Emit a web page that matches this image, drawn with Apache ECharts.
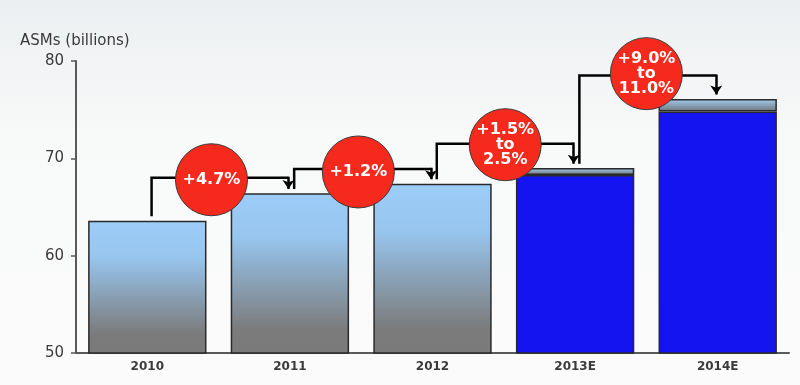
<!DOCTYPE html>
<html>
<head>
<meta charset="utf-8">
<script src="https://cdn.jsdelivr.net/npm/echarts@6/dist/echarts.min.js"></script>
<style>html,body{margin:0;padding:0;background:#fff}#c{width:800px;height:385px}</style>
</head>
<body>
<div id="c"></div>
<script>
// ---- data ----
var categories = ['2010', '2011', '2012', '2013E', '2014E'];
var baseValues = [63.6, 66.4, 67.4, 68.3, 74.8];      // solid bar (actual / low end of estimate)
var rangeValues = [null, null, null, 0.7, 1.3];       // estimate range on top
var isEstimate = [false, false, false, true, true];
var growthLabels = ['+4.7%', '+1.2%', '+1.5%\nto\n2.5%', '+9.0%\nto\n11.0%'];
var bubbleX = [0.45, 1.48, 2.51, 3.5];
var bubbleY = [67.8, 68.6, 71.4, 78.7];
var connectorLevel = [68.0, 68.9, 71.5, 78.5];
var yTicks = { min: 50, max: 80, interval: 10 };

// ---- build ----
var histGradient = new echarts.graphic.LinearGradient(0, 0, 0, 1, [
  { offset: 0, color: '#9ccdf8' },
  { offset: 0.28, color: '#97c5ee' },
  { offset: 0.85, color: '#7b7b7b' },
  { offset: 1, color: '#7a7a7a' }
]);
var rangeGradient = new echarts.graphic.LinearGradient(0, 0, 0, 1, [
  { offset: 0, color: '#a3cdf2' },
  { offset: 1, color: '#6e7478' }
]);
var baseData = baseValues.map(function (v, i) {
  return {
    value: v,
    itemStyle: { color: isEstimate[i] ? '#1414f0' : histGradient }
  };
});
var totals = baseValues.map(function (v, i) { return v + (rangeValues[i] || 0); });
var gap = 0.45;
var elbows = [], arrows = [];
for (var i = 0; i < growthLabels.length; i++) {
  elbows.push({
    coords: [
      [i + 0.03, totals[i] + gap],
      [i + 0.03, connectorLevel[i]],
      [i + 0.99, connectorLevel[i]]
    ]
  });
  arrows.push({
    coords: [
      [i + 0.99, connectorLevel[i] + 0.12],
      [i + 0.99, totals[i + 1] + gap]
    ]
  });
}
var bubbles = growthLabels.map(function (t, i) {
  return { value: [bubbleX[i], bubbleY[i]], label: { formatter: t } };
});

var chart = echarts.init(document.getElementById('c'));
chart.setOption({
  animation: false,
  backgroundColor: new echarts.graphic.LinearGradient(0, 0, 0, 1, [
    { offset: 0, color: '#eceff1' },
    { offset: 0.35, color: '#f8f9f9' },
    { offset: 1, color: '#fbfbfb' }
  ]),
  grid: { left: 76, right: 11, top: 61, bottom: 32 },
  title: {
    text: 'ASMs (billions)', left: 15, top: 29,
    textStyle: { fontFamily: 'DejaVu Sans', fontSize: 15, fontWeight: 'normal', color: '#3a3a3a' }
  },
  xAxis: [{
    type: 'category', data: categories,
    axisLine: { lineStyle: { color: '#5a5a5a', width: 2 } },
    axisTick: { show: false },
    axisLabel: { fontFamily: 'DejaVu Sans', fontWeight: 'bold', fontSize: 12, color: '#3a3a3a', margin: 8 }
  }, {
    type: 'value', min: -0.5, max: 4.5, show: false
  }],
  yAxis: {
    type: 'value', min: yTicks.min, max: yTicks.max, interval: yTicks.interval,
    splitLine: { show: false },
    axisLine: { show: true, onZero: false, lineStyle: { color: '#5a5a5a', width: 2 } },
    axisTick: { show: true, inside: false, length: 5, lineStyle: { color: '#5a5a5a', width: 1.5 } },
    axisLabel: { fontFamily: 'DejaVu Sans', fontSize: 15, color: '#3a3a3a', margin: 12 }
  },
  series: [{
    type: 'bar', stack: 's', data: baseData, barCategoryGap: '17%',
    itemStyle: { borderColor: '#2a2a2a', borderWidth: 1.5 }
  }, {
    type: 'bar', stack: 's', data: rangeValues,
    itemStyle: { color: rangeGradient, borderColor: '#2a2a2a', borderWidth: 1.5 }
  }, {
    type: 'lines', coordinateSystem: 'cartesian2d', xAxisIndex: 1, polyline: true,
    data: elbows, z: 3,
    lineStyle: { color: '#000', width: 2.5, opacity: 1 }
  }, {
    type: 'lines', coordinateSystem: 'cartesian2d', xAxisIndex: 1,
    data: arrows, z: 3,
    symbol: ['none', 'arrow'], symbolSize: 9,
    lineStyle: { color: '#000', width: 2.5, opacity: 1, curveness: 0 }
  }, {
    type: 'scatter', xAxisIndex: 1, data: bubbles, symbolSize: 72, z: 5,
    itemStyle: { color: '#f52a1c', borderColor: '#3a3a3a', borderWidth: 1, opacity: 1 },
    label: {
      show: true, position: 'inside', color: '#fff', fontFamily: 'DejaVu Sans',
      fontWeight: 'bold', fontSize: 16, lineHeight: 15
    }
  }]
});
</script>
</body>
</html>
